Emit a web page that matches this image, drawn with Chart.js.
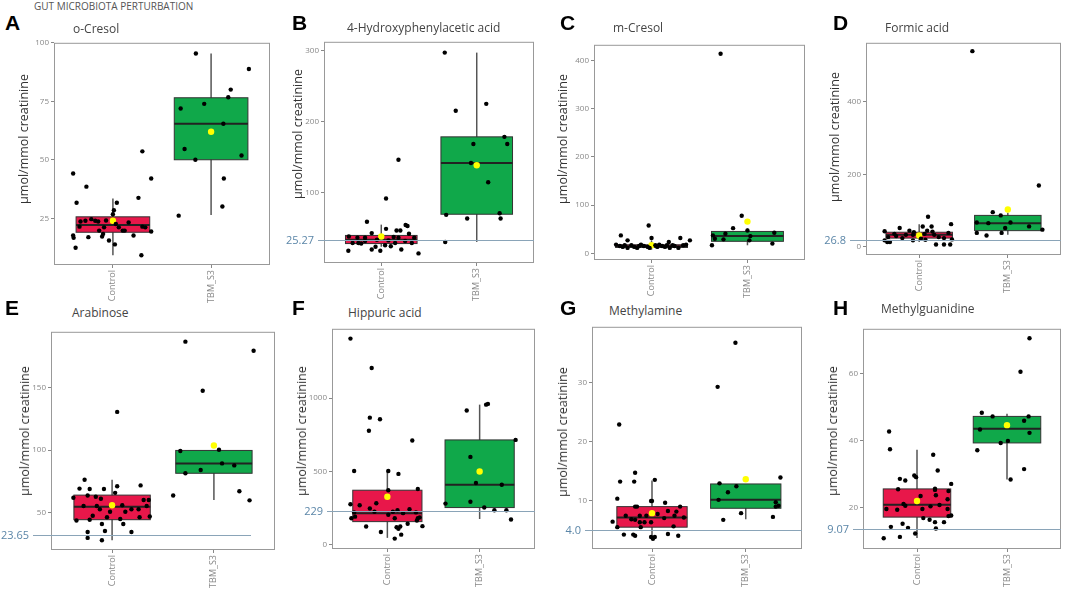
<!DOCTYPE html>
<html>
<head>
<meta charset="utf-8">
<script src="https://cdn.jsdelivr.net/npm/chart.js@4.4.1/dist/chart.umd.min.js"></script>
<style>
  body { margin: 0; background: #fff; width: 1065px; height: 589px; overflow: hidden; position: relative; font-family: "Open Sans", sans-serif; }
  canvas { position: absolute; }
  .hdr { position: absolute; left: 34px; top: 0px; font-size: 10px; color: #555; line-height: 12px; }
  .lt { position: absolute; font: bold 21px "Liberation Sans", Arial, sans-serif; color: #000; line-height: 21px; }
  .ttl { position: absolute; font-size: 12px; color: #444; line-height: 14px; transform: translateY(-50%); white-space: nowrap; }
  .yt { position: absolute; font-size: 12.5px; color: #333; white-space: nowrap; line-height: 14px; transform: translate(-50%, -50%) rotate(-90deg); }
</style>
</head>
<body>
<div class="hdr">GUT MICROBIOTA PERTURBATION</div>
<script>
// =============================
// DATA
// =============================
const categories = ["Control", "TBM_S3"];
const panelLetters = ["A", "B", "C", "D", "E", "F", "G", "H"];
const panelTitles = ["o-Cresol", "4-Hydroxyphenylacetic acid", "m-Cresol", "Formic acid",
                     "Arabinose", "Hippuric acid", "Methylamine", "Methylguanidine"];
const yAxisTitle = "µmol/mmol creatinine";

// y axis range and ticks per panel
const yRanges = [[5, 100], [0, 313], [-13.5, 432], [-22.5, 562], [19.9, 194.8], [-31, 1473], [1.75, 39.5], [7.7, 73.3]];
const yTicks = [[25, 50, 75, 100], [100, 200, 300], [0, 100, 200, 300, 400], [0, 200, 400],
                [50, 100, 150], [0, 500, 1000], [10, 20, 30], [20, 40, 60]];

// box stats: [lower whisker, q1, median, q3, upper whisker] for Control, TBM_S3
const boxStats = [
  [[9.2, 19.0, 22.1, 25.6, 33.4], [26.4, 50.0, 65.4, 76.5, 95.4]],
  [[23, 27.5, 33, 39, 54.3], [29.8, 69, 141.6, 178.5, 297.7]],
  [[8, 12.5, 15, 18, 27], [17, 25.2, 36, 45.6, 52]],
  [[13, 24.1, 33, 40.2, 62], [33, 44.6, 65, 86.6, 94]],
  [[27.7, 44.2, 54.5, 63.9, 76.2], [60, 81.4, 89.3, 99.7, 99.7]],
  [[45, 156, 214, 370.5, 504], [174, 252, 408, 714, 955]],
  [[3.5, 5.46, 7.1, 8.95, 13.4], [6.8, 8.67, 10.1, 12.8, 12.8]],
  [[11.0, 17.2, 20.9, 25.6, 37.3], [28.4, 39.3, 43.5, 47.2, 48.0]]
];
const groupMeans = [[23.9, 62.0], [37.6, 138.3], [17, 66], [31.3, 102.7], [55.8, 103.7], [326, 498], [7.84, 13.6], [22.0, 44.6]];

// horizontal reference lines (position, label as printed)
const refLineAt = [null, 32.1, null, 17.9, 31.7, 229, 4.9, 13.8];
const refLineLabels = [null, "25.27", null, "26.8", "23.65", "229", "4.0", "9.07"];

// jittered points [x, y]  (x = group index + jitter)
const ptsA_control = [[0.595,44.1],[0.63,31.6],[0.73,38.5],[0.62,12.4],[0.595,17.6],[0.6,16.6],[0.75,16.9],[0.66,21.4],[0.67,23.6],[0.72,23.9],[0.78,24.6],[0.82,23.9],[0.86,19.7],[0.89,17.2],[0.9,18.3],[0.91,21.1],[0.96,15.5],[1.0,26.7],[1.01,28.4],[1.02,13.8],[1.04,31.6],[1.06,21.1],[1.1,19.7],[1.12,19.7],[1.16,23.2],[1.21,17.6],[1.26,33.7],[1.29,9.2],[1.3,53.6],[1.3,21.4],[1.33,21.1],[1.39,42.0],[1.39,19.3],[0.93,24.0],[1.03,22.5],[0.85,23.6]];
const ptsA_tbm = [[1.845,95.4],[2.385,88.8],[2.2,80.0],[2.175,76.7],[1.93,73.9],[1.69,71.9],[2.125,65.4],[1.73,54.6],[1.84,50.0],[2.31,51.8],[2.13,42.0],[2.115,30.0],[1.67,26.1]];

const ptsB_control = [[1.18,146.2],[1.05,91.2],[0.85,58.4],[1.255,53.8],[1.275,52.4],[1.16,46],[1.2,46],[1.05,48.3],[0.9,42.3],[0.66,37.6],[1.29,41.3],[0.655,17.3],[0.7,28.4],[0.76,28.4],[0.79,27.5],[0.83,31.2],[0.9,19.2],[0.94,22.9],[0.99,17.3],[1.04,25.2],[1.1,23.8],[1.145,28.4],[1.18,35.8],[1.21,19.2],[1.25,31.2],[1.32,28.4],[1.39,13.6],[1.345,35.8],[0.955,33.0],[1.075,32],[1.13,36.7],[0.83,35.8],[0.75,35.8]];
const ptsB_tbm = [[1.665,297.7],[1.78,215.5],[2.1,225.2],[2.29,178.5],[2.32,168.4],[1.965,168.4],[1.94,141.6],[2.12,114.3],[1.68,68.1],[1.9,63.0],[2.24,70.4],[2.25,63],[1.67,29.8]];

const ptsC_control = [[0.68,37.4],[0.97,57.8],[1.0,32.0],[1.3,32.0],[1.4,27.2],[0.75,27.2],[0.63,18.4],[0.67,15.6],[0.7,13.6],[0.72,17.0],[0.75,11.6],[0.79,17.0],[0.82,13.6],[0.85,11.6],[0.89,18.4],[0.92,15.6],[0.96,13.6],[0.98,11.6],[1.06,13.6],[1.08,18.4],[1.11,15.6],[1.14,13.6],[1.18,23.8],[1.19,11.6],[1.22,17.0],[1.24,15.6],[1.28,11.6],[1.33,17.0],[1.36,18.4],[1.04,17.0],[0.87,15.6],[1.16,17.0]];
const ptsC_tbm = [[1.72,413.5],[1.94,78.2],[1.85,52.4],[2.0,47.6],[2.28,42.9],[1.77,40.8],[2.03,36],[1.64,37.4],[1.66,30.6],[1.75,29.3],[1.63,17],[2.26,20.4],[2.02,27.2]];

const ptsD_control = [[1.1,83],[1.04,56],[1.14,56],[1.36,62.5],[0.78,51.8],[0.61,42.9],[0.89,44.6],[0.94,40.2],[1.09,44.6],[1.15,42],[1.33,38.4],[0.72,35.7],[0.85,33],[0.93,33],[1.06,35.7],[1.17,33],[0.65,26.8],[0.74,29.5],[1.22,26.8],[1.28,24.1],[0.61,17.9],[0.64,13.4],[0.67,13.4],[0.93,17.9],[1.07,19.6],[1.19,6.3],[1.28,6.3],[1.35,6.3],[1.37,20.5],[0.81,24.1],[1.02,22.3]];
const ptsD_tbm = [[1.6,539],[2.35,169],[1.83,95.5],[1.92,86.6],[1.65,67],[1.78,65.2],[2.03,67],[2.24,56.3],[1.97,51.8],[2.39,47.3],[1.65,38.4],[1.76,31.3],[1.93,38.4]];

const ptsE_control = [[1.05,130.6],[0.73,76.2],[0.68,69.1],[0.78,68.8],[0.92,68.8],[1.05,71],[1.28,71.7],[1.34,55.2],[0.62,61.8],[0.76,63.6],[0.84,62.6],[0.89,61],[1.03,65.7],[1.1,55.8],[1.13,50.5],[1.19,52.6],[1.26,52.6],[1.36,60],[1.37,46.8],[0.65,43.5],[0.78,44.2],[0.81,47.4],[0.9,40.8],[0.95,46.1],[0.98,50.5],[0.88,52.6],[0.76,34.3],[0.76,29.6],[0.9,27.7],[0.93,35.1],[1.11,40.8],[1.19,34.3],[1.08,44.8],[1.27,46.1],[0.72,55.2],[0.85,55.2],[1.31,60]];
const ptsE_tbm = [[1.72,186.9],[2.39,179.6],[1.89,147.6],[1.67,99.2],[2.05,100.3],[2.08,89.3],[2.2,87.7],[1.87,84],[1.72,81.4],[1.6,63.6],[2.25,67],[2.35,59.7]];

const ptsF_control = [[0.6,1406],[0.83,1205],[0.81,866],[0.92,855],[0.8,777],[1.27,710],[0.64,502],[1.01,502],[1.12,482],[1.33,379],[1.01,370],[0.6,275],[0.7,268],[0.81,246],[0.88,281],[0.86,223],[0.64,219],[0.61,179],[0.65,190],[1.01,203],[1.11,234],[1.17,214],[1.24,241],[1.31,219],[1.33,179],[1.35,185],[1.32,163],[1.08,179],[0.77,123],[0.93,85],[1.1,118],[1.12,107],[1.14,123],[1.15,67],[1.22,141],[1.08,40],[1.38,125],[1.06,223]];
const ptsF_tbm = [[2.07,955],[2.09,960],[1.86,915],[2.39,714],[1.9,598],[1.96,420],[2.24,408],[1.63,279],[1.9,292],[2.05,252],[2.16,234],[2.29,234],[2.34,170]];

const ptsG_control = [[0.65,22.9],[0.82,14.7],[0.66,13.2],[0.81,13.2],[1.03,13.5],[0.63,10.3],[0.99,9.9],[1.0,9.9],[0.82,8.95],[0.84,8.95],[1.14,9.6],[1.3,8.95],[0.72,7.4],[0.78,6.8],[0.82,6.7],[0.87,7.4],[1.06,7.7],[1.17,8.2],[1.26,8.1],[1.24,7.4],[1.34,7.1],[0.58,6.4],[0.63,5.46],[0.87,6.3],[0.88,5.46],[0.92,6.3],[0.99,6.3],[1.13,7.0],[1.23,5.6],[0.7,4.2],[0.8,4.2],[0.82,4.0],[0.99,3.8],[1.01,3.5],[1.03,3.8],[1.17,4.3],[1.28,4.0],[0.94,7.4]];
const ptsG_tbm = [[1.89,36.8],[1.7,29.3],[1.72,12.9],[1.81,11.4],[1.9,12.4],[2.37,13.9],[1.71,10.1],[2.32,9.7],[2.32,8.95],[2.35,9.1],[1.95,7.84],[1.76,6.7],[2.29,7.2]];

const ptsH_control = [[0.69,42.7],[0.7,37.4],[1.18,35.8],[1.23,31.1],[0.81,28.6],[0.87,28.1],[0.97,29.6],[0.99,29.1],[1.38,27.1],[0.79,25.5],[1.2,25.7],[1.2,25.3],[1.35,25],[1.04,23.5],[1.21,23.7],[1.34,22.5],[0.85,21.1],[0.87,20.6],[0.66,19.6],[0.78,19.4],[1.06,19.6],[1.15,20.4],[1.25,20.8],[1.34,19.6],[1.38,17.7],[1.35,17.5],[1.07,16.9],[1.14,16.4],[1.2,15.7],[1.3,15.7],[0.71,14.3],[0.84,15.2],[0.9,14.0],[1.21,13.8],[0.81,11.3],[0.63,10.9],[0.98,12.3]];
const ptsH_tbm = [[2.25,70.5],[2.15,60.5],[1.72,48.3],[1.84,47.2],[2.24,47.2],[2.19,45.9],[1.7,43.3],[2.25,42.3],[1.93,39.3],[2.01,39.9],[1.67,37.1],[2.19,31.5],[2.04,28.4]];

const controlPoints = [ptsA_control, ptsB_control, ptsC_control, ptsD_control, ptsE_control, ptsF_control, ptsG_control, ptsH_control];
const tbmPoints = [ptsA_tbm, ptsB_tbm, ptsC_tbm, ptsD_tbm, ptsE_tbm, ptsF_tbm, ptsG_tbm, ptsH_tbm];

// =============================
// LAYOUT
// =============================
const plotRects = [
  [54, 38, 272, 265], [324, 37, 536, 263], [594, 40, 807, 260], [866, 38, 1063, 255],
  [51, 327, 277, 550], [332, 324, 537, 549], [592, 322, 804, 549], [863, 324, 1063, 549]
];
const xRanges = [[0.4, 2.6], [0.4, 2.6], [0.4, 2.6], [0.4, 2.6], [0.4, 2.6], [0.4, 2.6], [0.36, 2.6], [0.4, 2.6]];
const letterPos = [[5, 12], [292, 12], [560, 12], [833, 12], [5, 297], [292, 297], [560, 297], [833, 297]];
const titlePos = [[73, 29], [347, 28], [613, 28], [885, 28], [72, 313], [348, 313], [609, 311], [881, 309]];
const yTitlePos = [[24, 139], [298, 134], [563, 139], [835, 137], [25, 431], [302, 431], [563, 432], [833, 431]];
const refGap = [0, 6, 0, 16, 18, 5, 7, 10];     // how far the ref line starts left of the frame
const refEndInset = [0, 0, 0, 0, 24, 0, 0, 0];  // E line stops short of the right edge
const boxColors = ["#e8174a", "#10a84a"];

const AXW = 52, AXH = 38, PAD = 2;

// =============================
// PLUGINS
// =============================
const boxPlugin = {
  id: "boxes",
  beforeDatasetsDraw(chart, args, opts) {
    const { ctx, scales: { x, y } } = chart;
    opts.stats.forEach((s, k) => {
      const cx = x.getPixelForValue(k + 1);
      const hw = x.getPixelForValue(k + 1.375) - cx;
      const [lo, q1, md, q3, hi] = s.map(v => y.getPixelForValue(v));
      ctx.save();
      ctx.strokeStyle = "#555";
      ctx.lineWidth = 1.5;
      ctx.beginPath(); ctx.moveTo(cx, lo); ctx.lineTo(cx, hi); ctx.stroke();
      ctx.fillStyle = boxColors[k];
      ctx.fillRect(cx - hw, q3, hw * 2, q1 - q3);
      ctx.strokeStyle = "#333";
      ctx.lineWidth = 1;
      ctx.strokeRect(cx - hw, q3, hw * 2, q1 - q3);
      ctx.strokeStyle = "#222";
      ctx.lineWidth = 2;
      ctx.beginPath(); ctx.moveTo(cx - hw, md); ctx.lineTo(cx + hw, md); ctx.stroke();
      ctx.restore();
    });
  }
};

const framePlugin = {
  id: "frame",
  afterDraw(chart, args, opts) {
    const { ctx, chartArea: a, scales: { y } } = chart;
    ctx.save();
    ctx.strokeStyle = "#999";
    ctx.lineWidth = 1;
    ctx.strokeRect(a.left + 0.5, a.top + 0.5, a.right - a.left - 1, a.bottom - a.top - 1);
    if (opts.value != null) {
      const py = Math.round(y.getPixelForValue(opts.value)) + 0.5;
      const x0 = a.left - opts.gap;
      ctx.strokeStyle = "#8aa4b8";
      ctx.beginPath(); ctx.moveTo(x0, py); ctx.lineTo(a.right - opts.endInset, py); ctx.stroke();
      ctx.fillStyle = "#5b86a8";
      ctx.font = '11px "Open Sans"';
      ctx.textAlign = "right";
      ctx.textBaseline = "middle";
      ctx.fillText(opts.label, x0 - 4, py);
    }
    ctx.restore();
  }
};

// =============================
// RENDER
// =============================
function addText(cls, txt, left, top) {
  const d = document.createElement("div");
  d.className = cls;
  d.textContent = txt;
  d.style.left = left + "px";
  d.style.top = top + "px";
  document.body.appendChild(d);
}

function renderPanel(i) {
  const [l, t, r, b] = plotRects[i];
  const w = r - l + AXW + PAD, h = b - t + PAD + AXH;
  const cv = document.createElement("canvas");
  cv.width = w; cv.height = h;
  cv.style.left = (l - AXW) + "px";
  cv.style.top = (t - PAD) + "px";
  cv.style.width = w + "px";
  cv.style.height = h + "px";
  document.body.appendChild(cv);

  const grid = { drawOnChartArea: false, tickLength: 3, color: "#888" };

  new Chart(cv, {
    type: "scatter",
    data: {
      datasets: [
        { data: controlPoints[i].map(([x, y]) => ({ x, y })), backgroundColor: "#000", borderWidth: 0, pointRadius: 2.2 },
        { data: tbmPoints[i].map(([x, y]) => ({ x, y })), backgroundColor: "#000", borderWidth: 0, pointRadius: 2.2 },
        { data: groupMeans[i].map((y, k) => ({ x: k + 1, y })), backgroundColor: "#ffff00", borderWidth: 0, pointRadius: 3.2 }
      ]
    },
    options: {
      responsive: false,
      animation: false,
      layout: { padding: { top: PAD, right: PAD, left: 0, bottom: 0 } },
      plugins: {
        legend: { display: false },
        tooltip: { enabled: false },
        boxes: { stats: boxStats[i] },
        frame: { value: refLineAt[i], label: refLineLabels[i], gap: refGap[i], endInset: refEndInset[i] }
      },
      scales: {
        x: {
          type: "linear",
          min: xRanges[i][0], max: xRanges[i][1],
          afterBuildTicks: s => { s.ticks = categories.map((c, k) => ({ value: k + 1 })); },
          afterFit: s => { s.height = AXH; },
          ticks: { autoSkip: false, minRotation: 90, maxRotation: 90, padding: 2, font: { size: 9, family: "Open Sans" }, color: "#888",
                   callback: v => categories[v - 1] },
          grid: grid,
          border: { display: false }
        },
        y: {
          min: yRanges[i][0], max: yRanges[i][1],
          afterBuildTicks: s => { s.ticks = yTicks[i].map(v => ({ value: v })); },
          afterFit: s => { s.width = AXW; },
          ticks: { autoSkip: false, padding: 2, font: { size: 8, family: "Open Sans" }, color: "#888", callback: v => String(v) },
          grid: grid,
          border: { display: false }
        }
      }
    },
    plugins: [boxPlugin, framePlugin]
  });

  addText("lt", panelLetters[i], letterPos[i][0], letterPos[i][1]);
  addText("ttl", panelTitles[i], titlePos[i][0], titlePos[i][1]);
  addText("yt", yAxisTitle, yTitlePos[i][0], yTitlePos[i][1]);
}

for (let i = 0; i < panelTitles.length; i++) renderPanel(i);
</script>
</body>
</html>
